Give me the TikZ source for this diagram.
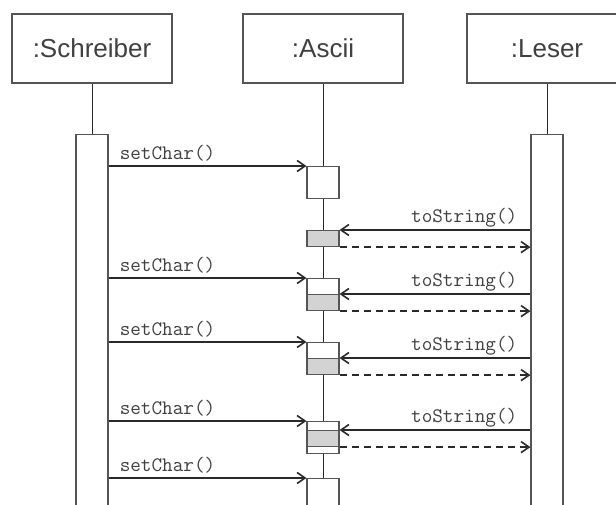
\documentclass[tikz,border=0pt]{standalone}
\usepackage{fontspec}
\setmainfont{Liberation Sans}
\usetikzlibrary{arrows.meta}
\definecolor{txt}{HTML}{404040}
\definecolor{lin}{HTML}{2A2A2A}
\definecolor{boxc}{HTML}{555555}
\definecolor{gfill}{HTML}{D3D3D3}
\tikzset{
  head/.style={draw=boxc, line width=1.2pt, fill=white, minimum width=160pt, minimum height=69pt,
    inner sep=0pt, font=\fontsize{26}{26}\selectfont, text=txt},
  life/.style={draw=lin, line width=0.9pt},
  actw/.style={draw=boxc, line width=1.1pt, fill=white, minimum width=32pt, inner sep=0pt, anchor=north},
  actg/.style={draw=boxc, line width=1.1pt, fill=gfill, minimum width=32pt, minimum height=16pt, inner sep=0pt, anchor=north},
  msg/.style={draw=lin, line width=1.6pt, -{Straight Barb[length=8pt,width=11pt,line width=1.6pt]}},
  ret/.style={msg, dash pattern=on 7pt off 5pt},
  lbl/.style={font=\ttfamily\fontsize{20.6}{20.6}\selectfont, text=txt, inner sep=0pt},
}
\begin{document}
\begin{tikzpicture}[x=1pt,y=-1pt]
\clip (0,0) rectangle (616,504);
\fill[white] (0,0) rectangle (616,504);
% heads
\node[head] (S) at (92,48.5) {:Schreiber};
\node[head] (A) at (323,48.5) {:Ascii};
\node[head] (L) at (547,48.5) {:Leser};
% lifelines
\coordinate (Aend) at (323,510);
\draw[life] (A.south) -- (Aend);
% outer activations
\node[actw, minimum height=380pt] (sa) at (92,134) {};
\node[actw, minimum height=380pt] (la) at (547,134) {};
\draw[life] (S.south) -- (sa.north);
\draw[life] (L.south) -- (la.north);
% Ascii activations
\node[actw, minimum height=32pt] (a1) at (323,166) {};
\node[actg] (g1) at (323,230) {};
\node[actw, minimum height=32pt] (a2) at (323,278) {};
\node[actg] (g2) at (323,294) {};
\node[actw, minimum height=32pt] (a3) at (323,342) {};
\node[actg] (g3) at (323,358) {};
\node[actw, minimum height=32pt] (a4) at (323,421) {};
\node[actg] (g4) at (323,430) {};
\node[actw, minimum height=40pt] (a5) at (323,478) {};
% setChar messages
\foreach \b in {a1,a2,a3,a4,a5}{
  \draw[msg] (sa.east |- \b.north) -- (\b.north west);
  \node[lbl, anchor=base west] at ([xshift=11pt,yshift=7pt]sa.east |- \b.north) {setChar()};
}
% toString messages
\foreach \g in {g1,g2,g3,g4}{
  \draw[msg] (la.west |- \g.north) -- (\g.north east);
  \draw[ret] (\g.south east) -- (la.west |- \g.south);
  \node[lbl, anchor=base east] at ([xshift=-13pt,yshift=8pt]la.west |- \g.north) {toString()};
}
\end{tikzpicture}
\end{document}
